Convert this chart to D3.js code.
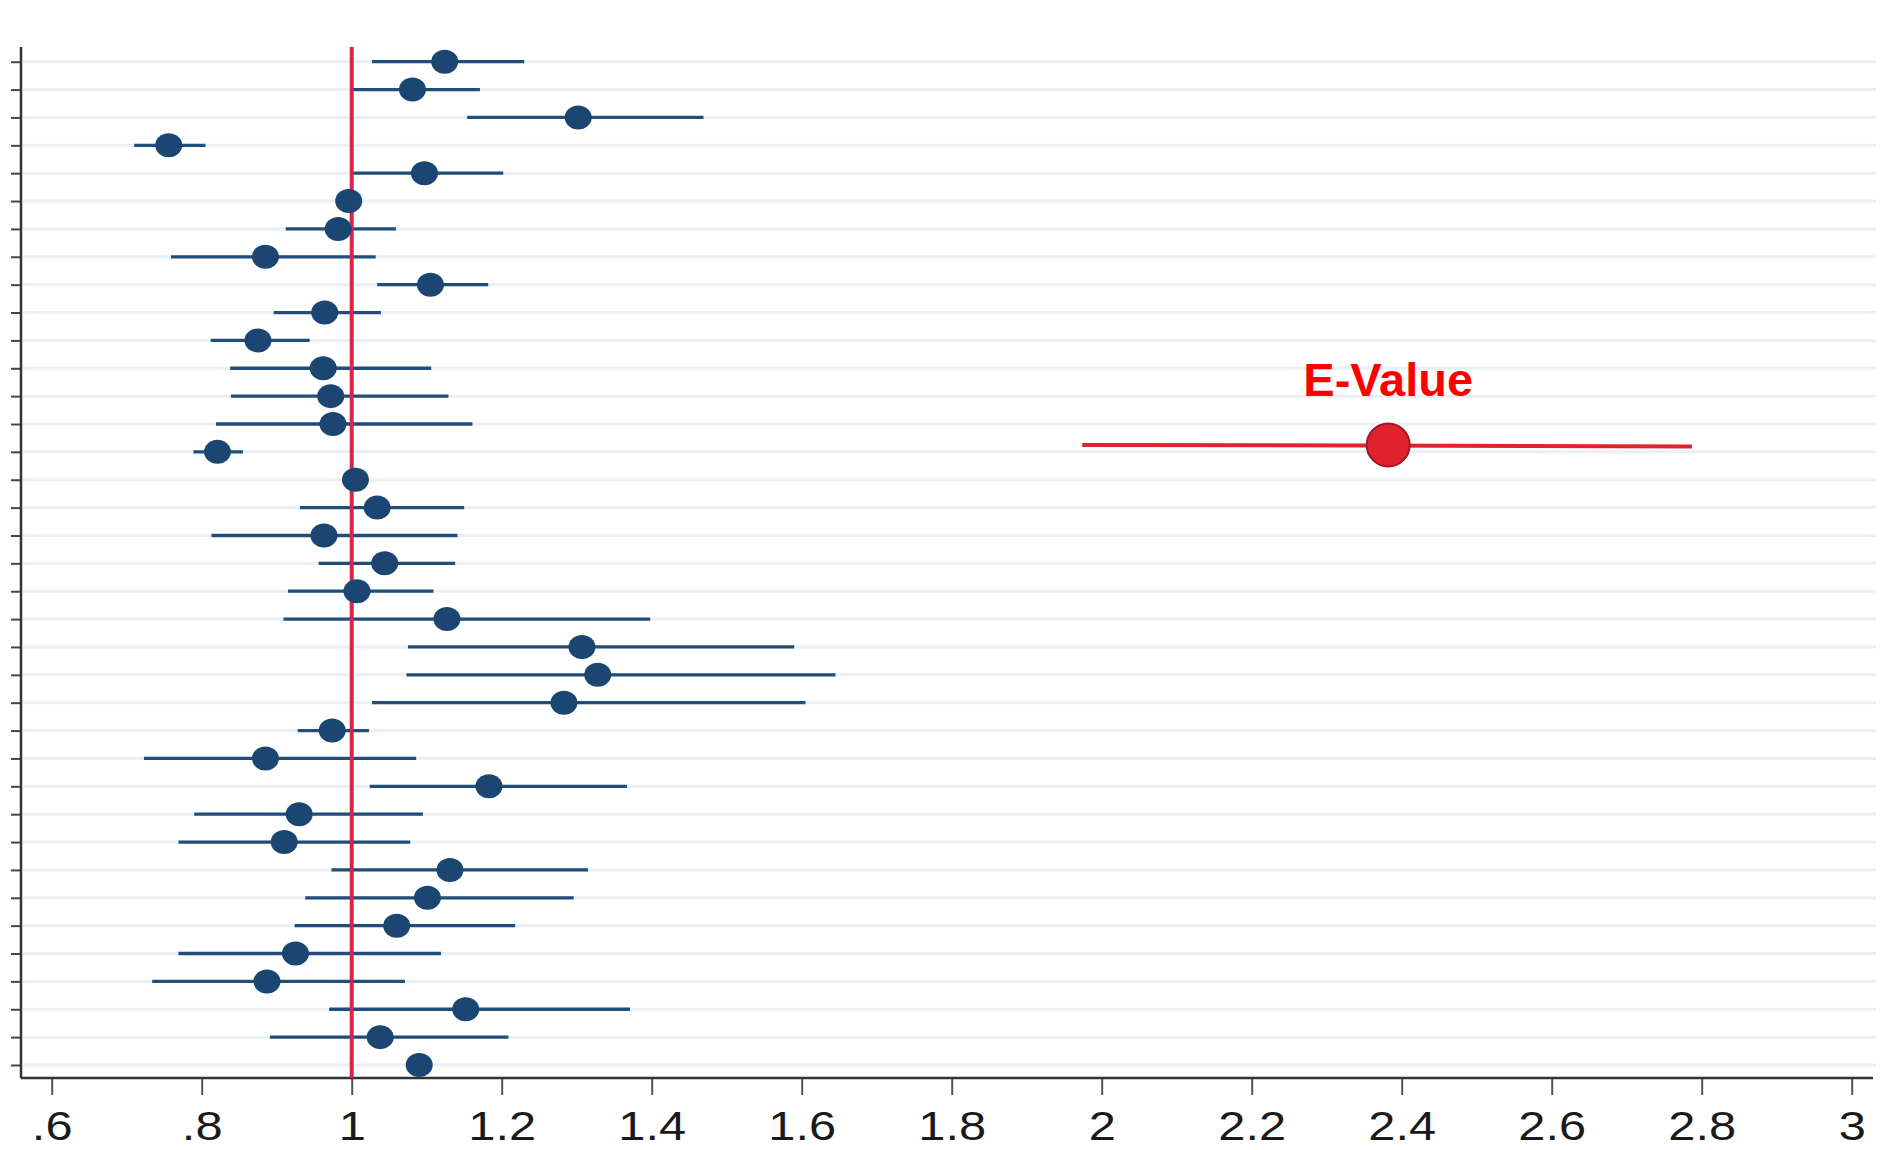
<!DOCTYPE html>
<html>
<head>
<meta charset="utf-8">
<script src="https://cdn.jsdelivr.net/npm/d3@7.9.0/dist/d3.min.js"></script>
<style>
  body { margin: 0; background: #fff; }
  svg { display: block; font-family: "Liberation Sans", Arial, sans-serif; }
</style>
</head>
<body>
<svg id="chart" width="1888" height="1150"></svg>
<script>
// point estimates and 95% CI, top row first
const est = [1.124, 1.081, 1.302, 0.756, 1.097, 0.996, 0.982, 0.885, 1.105, 0.964,
             0.875, 0.962, 0.972, 0.975, 0.821, 1.005, 1.034, 0.963, 1.044, 1.007,
             1.127, 1.307, 1.328, 1.283, 0.974, 0.885, 1.183, 0.930, 0.910, 1.131,
             1.101, 1.060, 0.925, 0.887, 1.152, 1.038, 1.090];
const lo  = [1.027, 0.999, 1.154, 0.710, 1.002, 0.985, 0.912, 0.759, 1.034, 0.896,
             0.812, 0.838, 0.839, 0.819, 0.789, 0.995, 0.931, 0.813, 0.956, 0.915,
             0.909, 1.075, 1.073, 1.027, 0.928, 0.723, 1.024, 0.790, 0.769, 0.973,
             0.938, 0.924, 0.769, 0.734, 0.970, 0.891, 1.080];
const hi  = [1.230, 1.171, 1.469, 0.805, 1.202, 1.008, 1.059, 1.032, 1.182, 1.039,
             0.944, 1.106, 1.129, 1.161, 0.855, 1.015, 1.150, 1.141, 1.138, 1.109,
             1.398, 1.590, 1.645, 1.605, 1.023, 1.086, 1.367, 1.095, 1.078, 1.315,
             1.296, 1.218, 1.119, 1.071, 1.371, 1.209, 1.100];

// E-value annotation (sits between rows 14 and 15)
const eValue = { est: 2.382, lo: 1.974, hi: 2.787, row: 14.75, label: "E-Value" };

const xTicks = [0.6, 0.8, 1, 1.2, 1.4, 1.6, 1.8, 2, 2.2, 2.4, 2.6, 2.8, 3];
const xTickLabels = [".6", ".8", "1", "1.2", "1.4", "1.6", "1.8", "2", "2.2", "2.4", "2.6", "2.8", "3"];

const rows = d3.range(1, est.length + 1);

const svg = d3.select("#chart");
const axisX = 21, axisY = 1078, plotTop = 47, plotRight = 1876;

const x = d3.scaleLinear().domain([0.6, 3]).range([51.7, 1851.7]);
const y = d3.scaleLinear().domain([1, est.length]).range([61.7, 1065]);

// gridlines, one per row
svg.append("g")
  .selectAll("line")
  .data(rows)
  .join("line")
  .attr("x1", axisX + 2).attr("x2", plotRight)
  .attr("y1", d => y(d)).attr("y2", d => y(d))
  .attr("stroke", "#e8f0f3")
  .attr("stroke-width", 3);

// y axis: ticks only, no labels
const yAxis = svg.append("g")
  .attr("transform", `translate(${axisX},0)`)
  .call(d3.axisLeft(y).tickValues(rows).tickSize(10).tickFormat(""));
yAxis.select(".domain").remove();
yAxis.selectAll(".tick line").attr("stroke", "#444").attr("stroke-width", 2);

svg.append("line")
  .attr("x1", axisX).attr("x2", axisX)
  .attr("y1", plotTop).attr("y2", axisY)
  .attr("stroke", "#333").attr("stroke-width", 2.5);

// x axis
const xAxis = svg.append("g")
  .attr("transform", `translate(0,${axisY})`)
  .call(d3.axisBottom(x).tickValues(xTicks).tickSize(17)
    .tickFormat((d, i) => xTickLabels[i]));
xAxis.select(".domain").remove();
xAxis.selectAll(".tick line").attr("stroke", "#555").attr("stroke-width", 2);
xAxis.selectAll(".tick text")
  .attr("y", 62).attr("dy", 0)
  .attr("fill", "#1a1a1a")
  .attr("font-size", 40)
  .attr("transform", "scale(1.22,1)");

svg.append("line")
  .attr("x1", axisX).attr("x2", 1873)
  .attr("y1", axisY).attr("y2", axisY)
  .attr("stroke", "#333").attr("stroke-width", 2.5);

// confidence intervals
const navy = "#1b4672";
svg.append("g")
  .selectAll("line")
  .data(rows)
  .join("line")
  .attr("x1", d => x(lo[d - 1])).attr("x2", d => x(hi[d - 1]))
  .attr("y1", d => y(d)).attr("y2", d => y(d))
  .attr("stroke", "#204d7a")
  .attr("stroke-width", 3.3);

// reference line at 1
svg.append("line")
  .attr("x1", x(1)).attr("x2", x(1))
  .attr("y1", plotTop).attr("y2", axisY)
  .attr("stroke", "#d6244c")
  .attr("stroke-width", 4);

// point estimates
svg.append("g")
  .selectAll("ellipse")
  .data(rows)
  .join("ellipse")
  .attr("cx", d => x(est[d - 1]))
  .attr("cy", d => y(d))
  .attr("rx", 13.5).attr("ry", 12)
  .attr("fill", navy);

// E-value overlay
const ey = y(eValue.row);
svg.append("line")
  .attr("x1", x(eValue.lo)).attr("x2", x(eValue.hi))
  .attr("y1", ey).attr("y2", ey + 1.5)
  .attr("stroke", "#e2232f")
  .attr("stroke-width", 4);

svg.append("circle")
  .attr("cx", x(eValue.est)).attr("cy", ey)
  .attr("r", 21.5)
  .attr("fill", "#e2212f")
  .attr("stroke", "#9c1a25")
  .attr("stroke-width", 2);

svg.append("text")
  .attr("x", x(eValue.est))
  .attr("y", 396)
  .attr("text-anchor", "middle")
  .attr("font-size", 47)
  .attr("font-weight", "bold")
  .attr("fill", "#ff0000")
  .text(eValue.label);
</script>
</body>
</html>
